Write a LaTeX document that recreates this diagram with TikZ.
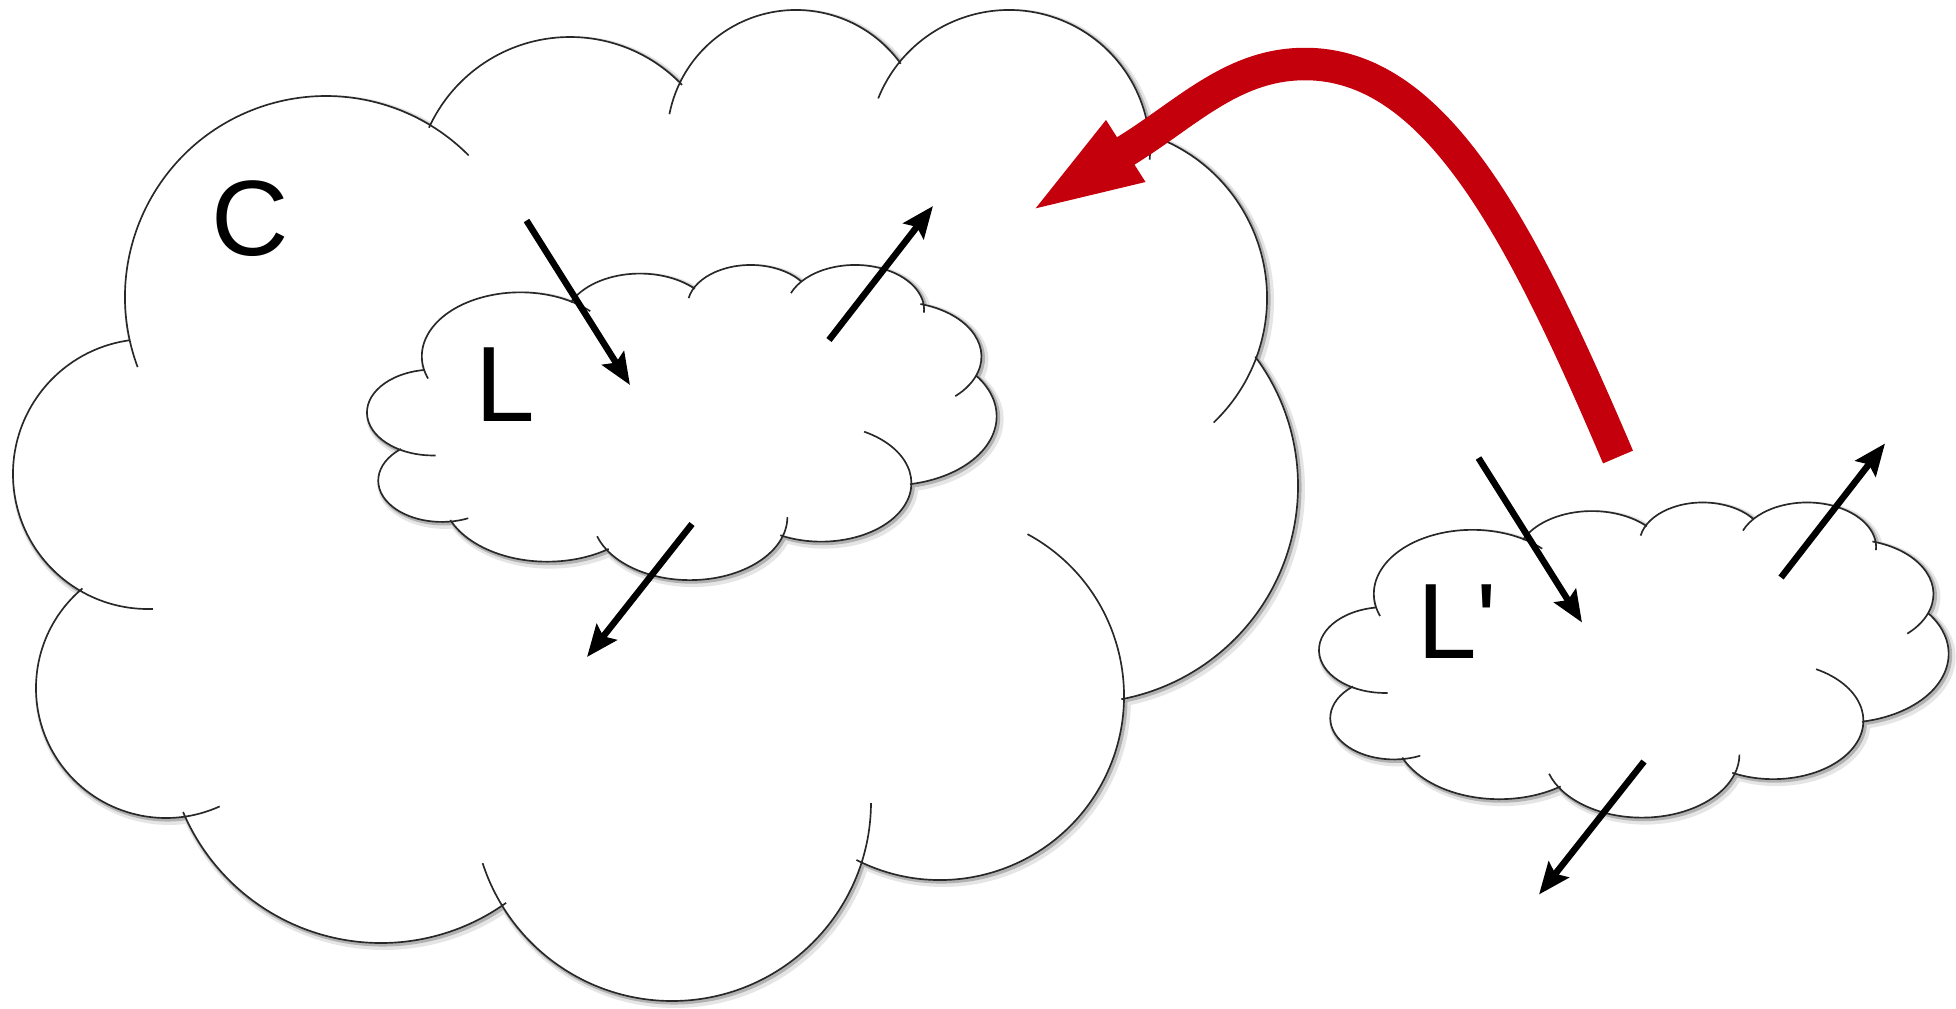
\documentclass[tikz,border=0pt]{standalone}
\usepackage{fontspec}
\newfontfamily\labelfont{Liberation Sans}[Ligatures=TeXOff]
\usetikzlibrary{arrows.meta}
\definecolor{arrowred}{RGB}{196,0,12}
\definecolor{cloudstroke}{RGB}{40,40,40}

\newcommand\cloudfill{%
  \fill[white] (326,-297) circle[radius=201] (570,-192) circle[radius=155]
    (796,-139) circle[radius=129] (1009,-151) circle[radius=141]
    (1095,-298) circle[radius=172] (1081,-486) circle[radius=217]
    (940,-696) circle[radius=184] (672,-802) circle[radius=199]
    (381,-728) circle[radius=215] (166,-688) circle[radius=130]
    (148,-474) circle[radius=135];
  \fill[white] (326,-297) -- (570,-192) -- (796,-139) -- (1009,-151) -- (1095,-298)
    -- (1081,-486) -- (940,-696) -- (672,-802) -- (381,-728) -- (166,-688)
    -- (148,-474) -- cycle;
}
\newcommand\cloudarcs[1]{%
  \draw[#1]
    (326,-297) ++(200.4:201) arc[start angle=200.4, end angle=44.8, radius=201]
    (570,-192) ++(155.5:155) arc[start angle=155.5, end angle=43.7, radius=155]
    (796,-139) ++(168.9:129) arc[start angle=168.9, end angle=35.7, radius=129]
    (1009,-151) ++(158.1:141) arc[start angle=158.1, end angle=-3.5, radius=141]
    (1095,-298) ++(74:172) arc[start angle=74, end angle=-46.4, radius=172]
    (1081,-486) ++(36.6:217) arc[start angle=36.6, end angle=-79.3, radius=217]
    (940,-696) ++(61.6:184) arc[start angle=61.6, end angle=-117, radius=184]
    (672,-802) ++(-0.3:199) arc[start angle=-0.3, end angle=-162.1, radius=199]
    (381,-728) ++(-54.4:215) arc[start angle=-54.4, end angle=-157, radius=215]
    (166,-688) ++(130:130) arc[start angle=130, end angle=294.4, radius=130]
    (148,-474) ++(97.5:135) arc[start angle=97.5, end angle=272.1, radius=135];
}
\newcommand\cloudat[4]{%
  \begin{scope}[shift={(#1+3,#2-3)},xscale=#3,yscale=#4]\cloudarcs{cloudshadowA}\end{scope}
  \begin{scope}[shift={(#1+1.6,#2-1.6)},xscale=#3,yscale=#4]\cloudarcs{cloudshadowB}\end{scope}
  \begin{scope}[shift={(#1,#2)},xscale=#3,yscale=#4]\cloudfill\cloudarcs{cloudline}\end{scope}
}

\begin{document}
\begin{tikzpicture}[x=0.02cm,y=0.02cm,
  cloudline/.style={draw=cloudstroke, line width=0.95pt},
  cloudshadowA/.style={draw=black!10, line width=4.5pt},
  cloudshadowB/.style={draw=black!30, line width=2.2pt},
  flowarrow/.style={draw=black, line width=3.7pt, -{Stealth[length=18pt,width=14.5pt,inset=3pt]}},
  redarrow/.style={draw=arrowred, line width=18.5pt, -{Triangle[length=70pt,width=35pt]}},
  cloudtext/.style={font=\labelfont\fontsize{61}{61}\selectfont, inner sep=0pt, text=black}]
\useasboundingbox (0,-1008) rectangle (1956,0);
\fill[white] (0,-1008) rectangle (1956,0);

% clouds C, L, L'
\cloudat{0}{0}{1}{1}
\cloudat{360.6}{-261.8}{0.49}{0.318}
\cloudat{1312.6}{-499.3}{0.49}{0.318}

% labels
\node[cloudtext, anchor=base west] (C) at (211.6,-255.7) {C};
\node[cloudtext, anchor=base west] (L) at (475.5,-421) {L};
\node[cloudtext, anchor=base west] (Lp) at (1417,-658) {L\textquotesingle};

% arrow end points
\coordinate (a1s) at (526.5,-220.5); \coordinate (a1e) at (630,-385);
\coordinate (a2s) at (829,-340);     \coordinate (a2e) at (933,-206);
\coordinate (a3s) at (692,-524);     \coordinate (a3e) at (587,-657);
\coordinate (b1s) at (1478.5,-458);  \coordinate (b1e) at (1582,-622.5);
\coordinate (b2s) at (1781,-577.5);  \coordinate (b2e) at (1885,-443.5);
\coordinate (b3s) at (1644,-761.5);  \coordinate (b3e) at (1539,-894.5);

\draw[flowarrow] (a1s) -- (a1e);
\draw[flowarrow] (a2s) -- (a2e);
\draw[flowarrow] (a3s) -- (a3e);
\draw[flowarrow] (b1s) -- (b1e);
\draw[flowarrow] (b2s) -- (b2e);
\draw[flowarrow] (b3s) -- (b3e);

% red arrow
\coordinate (redstart) at (1618,-457);
\coordinate (redapex) at (1305,-64);
\coordinate (redbase) at (1132,-147);
\coordinate (redtip) at (1022,-217);
\draw[redarrow] (redstart) .. controls (1520,-227) and (1435,-64) .. (redapex)
  .. controls (1235,-64) and (1190,-110) .. (redbase) -- (redtip);
\end{tikzpicture}
\end{document}
